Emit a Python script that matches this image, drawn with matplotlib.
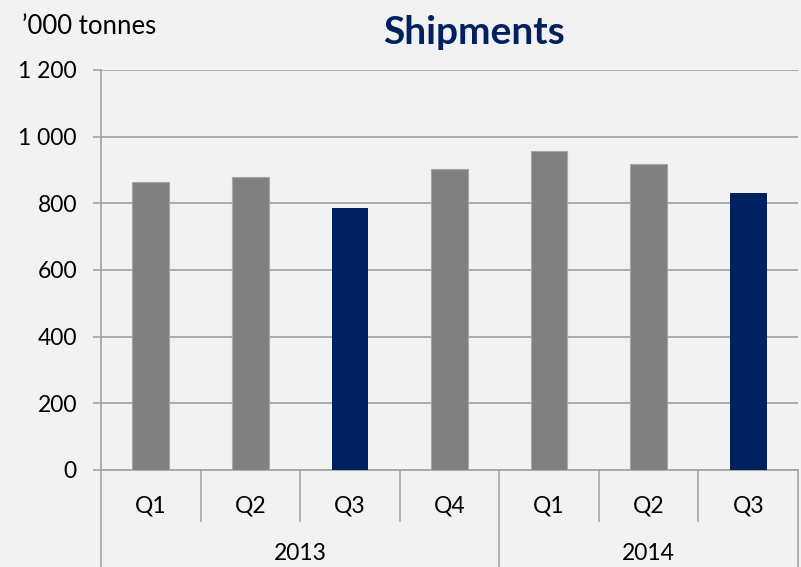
import matplotlib
matplotlib.use("Agg")
import matplotlib.pyplot as plt

quarters = ["Q1", "Q2", "Q3", "Q4", "Q1", "Q2", "Q3"]
years = ["2013", "2014"]
year_counts = [4, 3]
values = [865, 880, 785, 902, 957, 917, 831]
highlight = [False, False, True, False, False, False, True]
yticks = [0, 200, 400, 600, 800, 1000, 1200]
ytick_labels = ["0", "200", "400", "600", "800", "1 000", "1 200"]

BG = "#F2F2F2"
GRAY = "#808080"
NAVY = "#002060"
GRID = "#A6A6A6"
FS = 16.5

plt.rcParams['font.family'] = ['Lato', 'DejaVu Sans']

fig = plt.figure(figsize=(8.01, 5.67), dpi=100, facecolor=BG)
ax = fig.add_axes([101/801, 1-470/567, (798-101)/801, 400/567])
ax.set_facecolor(BG)

x = list(range(len(values)))
colors = [NAVY if h else GRAY for h in highlight]
edges = ["none" if h else "#A6A6A6" for h in highlight]
ax.bar(x, values, width=0.37, color=colors, edgecolor=edges, linewidth=0.8, zorder=3)

ax.set_xlim(-0.5, len(values) - 0.5)
ax.set_ylim(0, 1200)
ax.set_yticks(yticks)
ax.set_yticklabels(ytick_labels, fontsize=FS)
ax.yaxis.grid(True, color=GRID, linewidth=1.3, zorder=0)
ax.tick_params(axis='y', length=5.8, width=1.2, color=GRID, pad=11.5)
ax.set_xticks([])
for s in ["top", "right"]:
    ax.spines[s].set_visible(False)
ax.spines["left"].set_color(GRID)
ax.spines["left"].set_linewidth(1.3)
ax.spines["bottom"].set_color(GRID)
ax.spines["bottom"].set_linewidth(1.3)

trans = ax.get_xaxis_transform()
q_bottom = (470 - 521) / 400
y_bottom = (470 - 567) / 400
for i, q in enumerate(quarters):
    ax.text(i, (470 - 506) / 400, q, transform=trans, ha="center", va="center", fontsize=FS)
boundaries = [-0.5]
acc = -0.5
for c in year_counts:
    acc += c
    boundaries.append(acc)
for b in [i - 0.5 for i in range(len(values) + 1)]:
    bottom = y_bottom if b in boundaries else q_bottom
    ax.plot([b, b], [0, bottom], transform=trans, color=GRID, linewidth=1.2, clip_on=False)
start = -0.5
for yr, c in zip(years, year_counts):
    ax.text(start + c / 2, (470 - 554) / 400, yr, transform=trans, ha="center", va="center", fontsize=FS)
    start += c

fig.text(22/801, 1 - 27/567, "\u2019000 tonnes", ha="left", va="center", fontsize=18.5)
fig.text(474/801, 1 - 33/567, "Shipments", ha="center", va="center", fontsize=28,
         fontweight="bold", color=NAVY)

fig.savefig("out.png", dpi=100, facecolor=BG)
